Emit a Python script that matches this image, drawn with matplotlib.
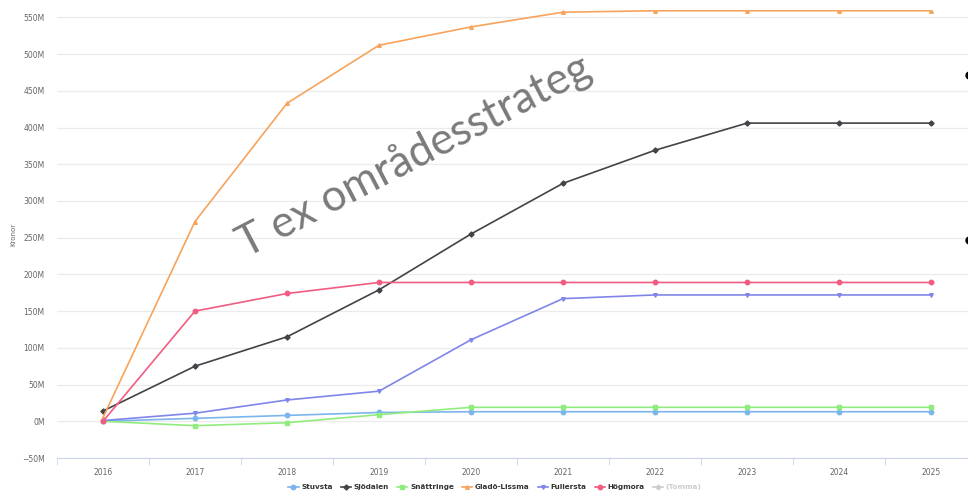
import matplotlib.pyplot as plt
from matplotlib.lines import Line2D
from matplotlib.ticker import FuncFormatter, MultipleLocator

# Kumulativa belopp per område, miljoner kronor
years = ["2016", "2017", "2018", "2019", "2020", "2021", "2022", "2023", "2024", "2025"]
stuvsta = [0, 4, 8, 12, 13, 13, 13, 13, 13, 13]
sjodalen = [14, 75, 115, 179, 255, 324, 369, 406, 406, 406]
snattringe = [0, -6, -2, 9, 19, 19, 19, 19, 19, 19]
glado_lissma = [5, 272, 433, 512, 537, 557, 559, 559, 559, 559]
fullersta = [1, 11, 29, 41, 111, 167, 172, 172, 172, 172]
hogmora = [0, 150, 174, 189, 189, 189, 189, 189, 189, 189]

series = [
    ("Stuvsta", stuvsta, "#7cb5ec", "o"),
    ("Sjödalen", sjodalen, "#434348", "D"),
    ("Snättringe", snattringe, "#90ed7d", "s"),
    ("Gladö-Lissma", glado_lissma, "#f7a35c", "^"),
    ("Fullersta", fullersta, "#8085e9", "v"),
    ("Högmora", hogmora, "#f15c80", "o"),
]

W, H = 968, 495
fig = plt.figure(figsize=(W / 100, H / 100), dpi=100)

# plottytan går lite utanför bildens högra kant
left, right, top, bottom = 57, 977, 10, 458
ax = fig.add_axes([left / W, 1 - bottom / H, (right - left) / W, (bottom - top) / H])

x = list(range(len(years)))
for name, vals, color, marker in series:
    ms = 3.2 if marker in ("o", "s") else 2.6
    ax.plot(x, [v * 1e6 for v in vals], color=color, lw=1.2, marker=marker,
            ms=ms, label=name, zorder=3)
# dold serie, bara i förklaringen
ax.plot([], [], color="#cccccc", lw=1.2, marker="P", ms=3, label="(Tomma)")

ax.set_xlim(-0.5, len(years) - 0.5)
ax.set_ylim(-50e6, 560e6)
ax.yaxis.set_major_locator(MultipleLocator(50e6))
ax.yaxis.set_major_formatter(FuncFormatter(lambda v, p: f"{v / 1e6:.0f}M".replace("-", "−")))
ax.set_xticks(x)
ax.set_xticklabels(years)
ax.set_xticks([i - 0.5 for i in range(len(years) + 1)], minor=True)

ax.grid(axis="y", color="#ebebeb", lw=0.9)
ax.set_axisbelow(True)
for s in ("top", "right", "left"):
    ax.spines[s].set_visible(False)
ax.spines["bottom"].set_color("#ccd6eb")
ax.tick_params(axis="y", length=0, labelsize=5.5, labelcolor="#666666", pad=9)
ax.tick_params(axis="x", which="major", length=0, labelsize=5.5, labelcolor="#666666", pad=7)
ax.tick_params(axis="x", which="minor", length=5, color="#ccd6eb")
ax.set_ylabel("Kronor", fontsize=5, color="#666666", labelpad=4)

leg = fig.legend(loc="center", bbox_to_anchor=(495 / W, 1 - 487 / H), ncol=7,
                 frameon=False, fontsize=5.2, handlelength=1.4, columnspacing=1.1,
                 handletextpad=0.4)
for t in leg.get_texts():
    t.set_fontweight("bold")
    t.set_color("#333333")
leg.get_texts()[-1].set_color("#cccccc")

fig.text(246 / W, 1 - 258 / H, "T ex områdesstrateg", fontsize=31.5, family="Lato",
         color="#7a7a7a", rotation=27.5, rotation_mode="anchor", ha="left", va="baseline")

# punktlista i bildkanten
for yb in (75, 240):
    fig.add_artist(Line2D([969 / W], [1 - yb / H], marker="o", ms=5, color="black",
                          transform=fig.transFigure, clip_on=False))

fig.savefig("out.png", dpi=100)
